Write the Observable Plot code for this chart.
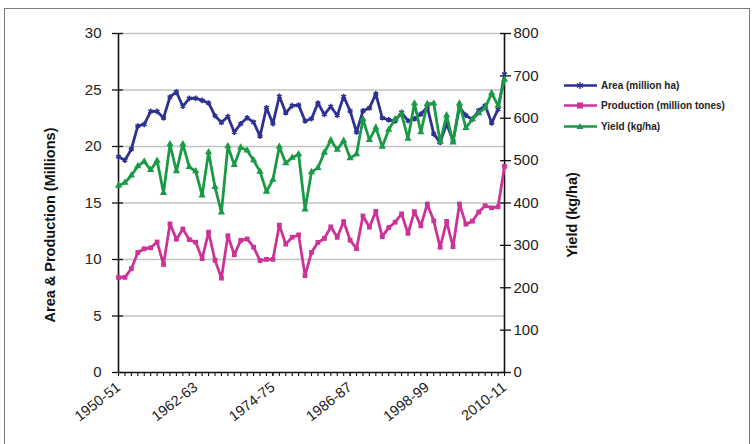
<!DOCTYPE html>
<html>
<head>
<meta charset="utf-8">
<script src="https://cdn.jsdelivr.net/npm/d3@7"></script>
<script src="https://cdn.jsdelivr.net/npm/@observablehq/plot@0.6"></script>
<style>
  html, body { margin: 0; padding: 0; background: #fff; }
  #wrap { position: relative; width: 755px; height: 444px; overflow: hidden; font-family: 'Liberation Sans', Arial, sans-serif; }
  #frame { position: absolute; left: 4px; top: 8px; width: 746px; height: 460px; border: 1.5px solid #7a7a7a; box-sizing: border-box; pointer-events: none; }
  #legend { position: absolute; left: 563px; top: 75px; font-weight: bold; font-size: 10px; color: #222; }
  #legend .row { display: flex; align-items: center; height: 20.5px; }
  #legend svg { margin-right: 3px; }
</style>
</head>
<body>
<div id="wrap">
  <div id="chart"></div>
  <div id="legend"></div>
  <div id="frame"></div>
</div>
<script>
// ---- data (India pulses, 1950-51 to 2010-11) ----
const startYears = d3.range(1950, 2011);
const seasons = startYears.map(y => `${y}-${String((y + 1) % 100).padStart(2, "0")}`);

const area = [19.09,18.78,19.77,21.82,21.96,23.11,23.11,22.53,24.38,24.84,
  23.56,24.26,24.27,24.08,23.85,22.72,22.12,22.65,21.26,22.02,
  22.54,22.15,20.92,23.43,22.02,24.45,22.98,23.62,23.66,22.26,
  22.46,23.84,22.83,23.54,22.74,24.42,23.16,21.27,23.15,23.40,
  24.66,22.54,22.36,22.25,23.03,22.28,22.45,22.87,23.50,21.12,
  20.35,22.01,20.50,23.46,22.76,22.39,23.19,23.63,22.09,23.28,26.40];

const production = [8.41,8.42,9.19,10.62,10.95,11.04,11.55,9.56,13.15,11.80,
  12.70,11.76,11.53,10.07,12.42,9.94,8.35,12.10,10.42,11.69,
  11.82,11.09,9.91,10.01,10.01,13.04,11.36,11.97,12.18,8.57,
  10.63,11.51,11.86,12.89,11.96,13.36,11.71,10.96,13.85,12.86,
  14.26,12.02,12.82,13.30,14.04,12.31,14.24,12.98,14.91,13.42,
  11.08,13.37,11.13,14.91,13.13,13.39,14.20,14.76,14.57,14.66,18.24];

const yieldKg = [441,448,465,487,498,478,500,424,539,475,
  539,485,475,418,520,438,378,534,490,531,
  524,501,474,427,455,533,494,507,515,385,
  473,483,519,548,526,547,506,515,598,549,
  578,533,573,598,610,552,635,567,634,635,
  544,607,543,635,577,598,612,625,659,630,691];

const leftTicks = [0, 5, 10, 15, 20, 25, 30];
const rightTicks = [0, 100, 200, 300, 400, 500, 600, 700, 800];
const xLabelTicks = ["1950-51", "1962-63", "1974-75", "1986-87", "1998-99", "2010-11"];

const seriesNames = ["Area (million ha)", "Production (million tones)", "Yield (kg/ha)"];
const colors = ["#2e3192", "#cc3399", "#1b9a46"];
const symbols = ["asterisk", "square", "triangle"];

// ---- build table ----
const LEFT_MAX = 30, RIGHT_MAX = 800;
const toLeft = v => v * LEFT_MAX / RIGHT_MAX;
const rows = seasons.map((s, i) => ({i, season: s, area: area[i], production: production[i], yld: toLeft(yieldKg[i])}));
const xLabelIdx = xLabelTicks.map(l => seasons.indexOf(l));

const series = [
  {key: "area", color: colors[0], symbol: symbols[0]},
  {key: "production", color: colors[1], symbol: symbols[1]},
  {key: "yld", color: colors[2], symbol: symbols[2]}
];

const seriesMarks = series.flatMap(s => [
  Plot.lineY(rows, {x: "i", y: s.key, stroke: s.color, strokeWidth: 2.8}),
  s.symbol === "asterisk"
    ? Plot.dot(rows, {x: "i", y: s.key, symbol: s.symbol, r: 2.6, stroke: s.color, strokeWidth: 1.6})
    : Plot.dot(rows, {x: "i", y: s.key, symbol: s.symbol, r: 2.7, fill: s.color, stroke: "none"})
]);

const chart = Plot.plot({
  width: 755,
  height: 444,
  marginLeft: 118,
  marginRight: 251,
  marginTop: 33,
  marginBottom: 72,
  style: {fontFamily: "'Liberation Sans', Arial, sans-serif", fontSize: "15px", color: "#222", background: "transparent"},
  x: {domain: [0, seasons.length - 1], axis: null},
  y: {domain: [0, LEFT_MAX], axis: null},
  marks: [
    Plot.gridY(leftTicks.slice(1), {stroke: "#c2c2c2", strokeOpacity: 1, strokeWidth: 1.3}),
    // left axis
    Plot.axisY(leftTicks, {anchor: "left", tickSize: 6, tickPadding: 11, fontSize: 15, label: null, stroke: "#111", strokeWidth: 1.3}),
    Plot.axisY(leftTicks, {anchor: "left", tickSize: -5, tickFormat: () => "", label: null, stroke: "#111", strokeWidth: 1.3}),
    // right axis
    Plot.axisY(rightTicks.map(toLeft), {anchor: "right", tickSize: 6, tickPadding: 3, fontSize: 15, label: null,
      tickFormat: d => String(Math.round(d * RIGHT_MAX / LEFT_MAX)), stroke: "#111", strokeWidth: 1.3}),
    Plot.axisY(rightTicks.map(toLeft), {anchor: "right", tickSize: -5, tickFormat: () => "", label: null, stroke: "#111", strokeWidth: 1.3}),
    // x axis minor ticks and labels
    Plot.axisX(rows.map(d => d.i), {tickSize: 4, tickFormat: () => "", label: null, stroke: "#111", strokeWidth: 1.1}),
    Plot.axisX(xLabelIdx, {tickSize: 4, tickPadding: 9, tickRotate: -38, fontSize: 14.5, label: null,
      tickFormat: i => seasons[i], stroke: "#111"}),
    // axis lines
    Plot.ruleX([0], {stroke: "#111", strokeWidth: 1.6}),
    Plot.ruleX([seasons.length - 1], {stroke: "#111", strokeWidth: 1.6}),
    Plot.ruleY([0], {stroke: "#111", strokeWidth: 1.6}),
    ...seriesMarks,
    // axis titles
    Plot.text(["Area & Production (Millions)"], {frameAnchor: "left", textAnchor: "middle", dx: -68, dy: 22, rotate: -90,
      fontWeight: "bold", fontSize: 14.5, fill: "#111"}),
    Plot.text(["Yield (kg/ha)"], {frameAnchor: "right", textAnchor: "middle", dx: 68, dy: 12, rotate: -90,
      fontWeight: "bold", fontSize: 14.5, fill: "#111"})
  ]
});
document.getElementById("chart").appendChild(chart);

// ---- legend ----
const legend = document.getElementById("legend");
seriesNames.forEach((name, k) => {
  const row = document.createElement("div");
  row.className = "row";
  const c = colors[k];
  let marker;
  if (symbols[k] === "square") marker = `<rect x="14" y="3.5" width="6" height="6" fill="${c}"/>`;
  else if (symbols[k] === "triangle") marker = `<path d="M17,3 L20.5,9 L13.5,9 Z" fill="${c}"/>`;
  else marker = `<path d="M17,3 V10 M14,4.5 L20,8.5 M20,4.5 L14,8.5" stroke="${c}" stroke-width="1.4"/>`;
  row.innerHTML = `<svg width="35" height="13"><line x1="1" y1="6.5" x2="34" y2="6.5" stroke="${c}" stroke-width="2.6"/>${marker}</svg><span>${name}</span>`;
  legend.appendChild(row);
});
</script>
</body>
</html>
